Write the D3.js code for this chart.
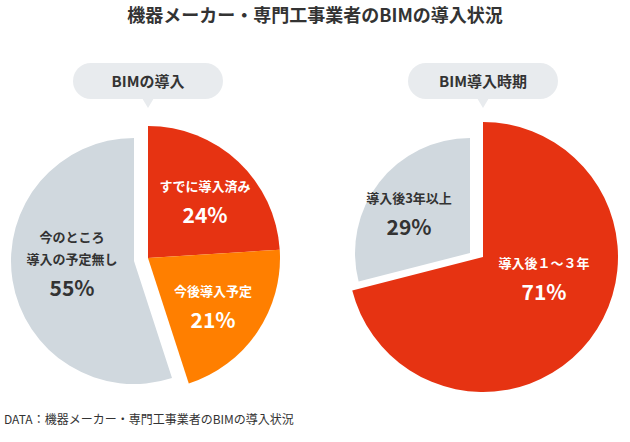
<!DOCTYPE html>
<html><head><meta charset="utf-8">
<script src="https://cdn.jsdelivr.net/npm/d3@7"></script>
<style>body{margin:0;background:#fff;font-family:"Noto Sans CJK JP","Noto Sans",sans-serif}</style>
</head><body>
<script>
const title = "機器メーカー・専門工事業者のBIMの導入状況";
const source = "DATA：機器メーカー・専門工事業者のBIMの導入状況";
const leftLabels = [["すでに導入済み"], ["今後導入予定"], ["今のところ", "導入の予定無し"]];
const leftValues = [24, 21, 55];
const rightLabels = [["導入後１～３年"], ["導入後3年以上"]];
const rightValues = [71, 29];
const leftColors = ["#e63312", "#ff7f00", "#d0d8de"];
const rightColors = ["#e63312", "#d0d8de"];

const svg = d3.select("body").append("svg").attr("width", 630).attr("height", 442);

svg.append("text").attr("x", 315).attr("y", 22).attr("text-anchor", "middle")
  .attr("font-size", 18).attr("font-weight", 700).attr("fill", "#333").text(title);
svg.append("text").attr("x", 4).attr("y", 424)
  .attr("font-size", 12).attr("fill", "#333").text(source);

function bubble(cx, text, w) {
  const g = svg.append("g");
  g.append("rect").attr("x", cx - w / 2).attr("y", 63).attr("width", w).attr("height", 36)
    .attr("rx", 18).attr("fill", "#e8ebee");
  g.append("path").attr("d", `M${cx - 6},98 L${cx},108 L${cx + 6},98 Z`).attr("fill", "#e8ebee");
  g.append("text").attr("x", cx).attr("y", 87).attr("text-anchor", "middle")
    .attr("font-size", 15).attr("font-weight", 700).attr("fill", "#333").text(text);
}
bubble(148, "BIMの導入", 150);
bubble(483, "BIM導入時期", 150);

// each slice: centre, radius
function drawPie(values, labels, colors, geo, textCol, labelPos) {
  const arcs = d3.pie().sort(null)(values);
  arcs.forEach((a, i) => {
    const [cx, cy, r] = geo[i];
    const g = svg.append("g").attr("transform", `translate(${cx},${cy})`);
    g.append("path").attr("d", d3.arc().innerRadius(0).outerRadius(r)(a)).attr("fill", colors[i]);
    const [lx, ly] = labelPos[i];
    const t = svg.append("g").attr("transform", `translate(${lx},${ly})`)
      .attr("fill", textCol[i]).attr("text-anchor", "middle");
    labels[i].forEach((l, j) => t.append("text").attr("y", j * 22)
      .attr("font-size", 13).attr("font-weight", 700).text(l));
    t.append("text").attr("y", labels[i].length * 22 + 10)
      .attr("font-size", 21).attr("font-weight", 700).text(values[i] + "%");
  });
}

drawPie(leftValues, leftLabels, leftColors,
  [[148, 258, 132], [148, 258, 132], [134, 261, 123]],
  ["#fff", "#fff", "#333"],
  [[205, 191], [213, 296], [72, 242]]);

drawPie(rightValues, rightLabels, rightColors,
  [[483, 257, 135], [470, 253, 115]],
  ["#fff", "#333"],
  [[544, 268], [409, 203]]);
</script>
</body></html>
